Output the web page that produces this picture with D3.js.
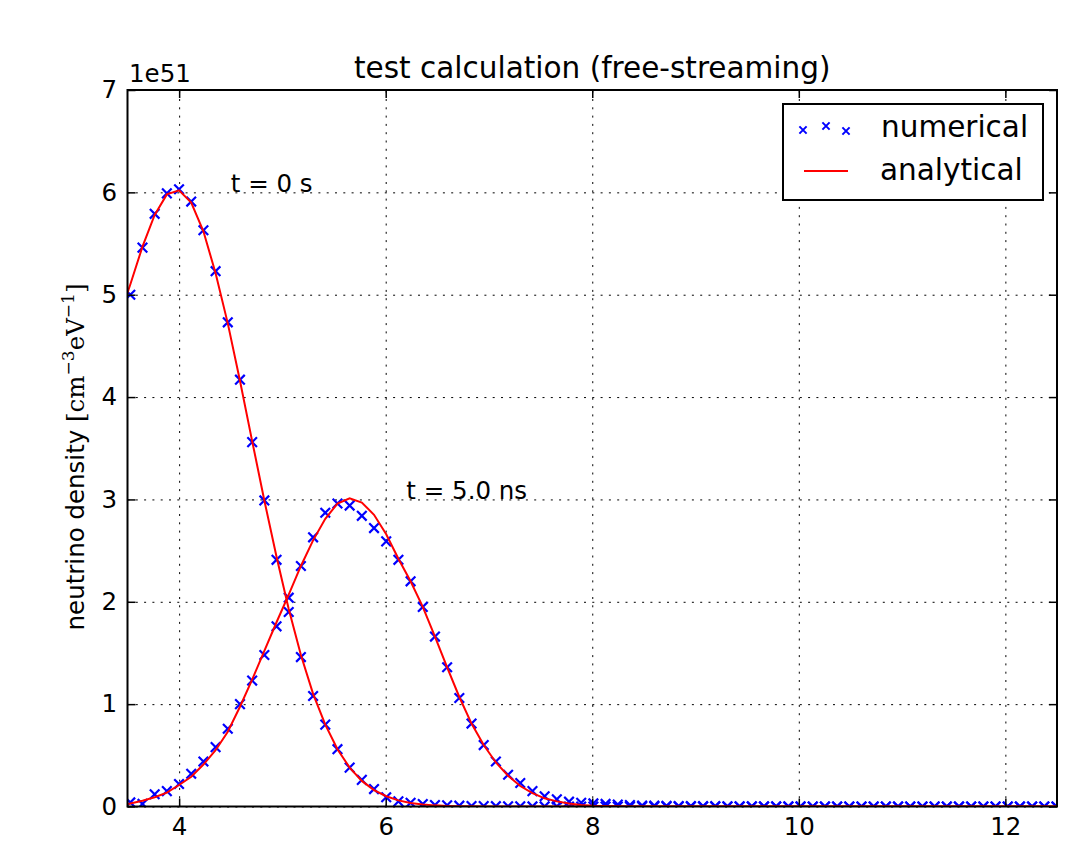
<!DOCTYPE html>
<html>
<head>
<meta charset="utf-8">
<script src="https://cdn.jsdelivr.net/npm/d3@7"></script>
<style>
  body { margin: 0; background: #fff; }
  svg text { font-family: "DejaVu Sans", sans-serif; fill: #000; }
  .grid line { stroke: #000; stroke-width: 1; stroke-dasharray: 2,6.3; }
  .grid .domain { display: none; }
  .axis .domain { display: none; }
  .axis line { stroke: #000; stroke-width: 1.5; }
</style>
</head>
<body>
<div id="chart-area"></div>
<script>
// energy grid of the numerical solution
var energyGrid = [
  3.527, 3.645, 3.763, 3.881, 3.999, 4.117, 4.235, 4.353, 4.471, 4.589,
  4.707, 4.825, 4.943, 5.061, 5.179, 5.297, 5.415, 5.533, 5.651, 5.769,
  5.887, 6.005, 6.123, 6.241, 6.359, 6.477, 6.595, 6.713, 6.831, 6.949,
  7.067, 7.185, 7.303, 7.421, 7.539, 7.657, 7.775, 7.893, 8.011, 8.129,
  8.247, 8.365, 8.483, 8.601, 8.719, 8.837, 8.955, 9.073, 9.191, 9.309,
  9.427, 9.545, 9.663, 9.781, 9.899, 10.017, 10.135, 10.253, 10.371, 10.489,
  10.607, 10.725, 10.843, 10.961, 11.079, 11.197, 11.315, 11.433, 11.551, 11.669,
  11.787, 11.905, 12.023, 12.141, 12.259, 12.377, 12.495
];

// numerical density (units of 1e51), t = 0 s
var numericalT0 = [
  5.00, 5.46, 5.79, 5.99, 6.03, 5.91, 5.63, 5.23, 4.73, 4.17,
  3.56, 2.99, 2.41, 1.90, 1.46, 1.08, 0.80, 0.56, 0.38, 0.26,
  0.17, 0.09, 0.05, 0.037, 0.024, 0.015, 0.012, 0.008, 0.005, 0.004,
  0.003, 0.002, 0.002, 0.001, 0.001, 0.001, 0, 0, 0, 0,
  0, 0, 0, 0, 0, 0, 0, 0, 0, 0,
  0, 0, 0, 0, 0, 0, 0, 0, 0, 0,
  0, 0, 0, 0, 0, 0, 0, 0, 0, 0,
  0, 0, 0, 0, 0, 0, 0
];

// numerical density, t = 5.0 ns
var numericalT5 = [
  0.04, 0.025, 0.12, 0.15, 0.22, 0.32, 0.44, 0.58, 0.76, 1.00,
  1.23, 1.48, 1.76, 2.04, 2.35, 2.63, 2.87, 2.96, 2.94, 2.84,
  2.72, 2.59, 2.41, 2.20, 1.95, 1.66, 1.36, 1.06, 0.81, 0.60,
  0.44, 0.31, 0.23, 0.15, 0.10, 0.07, 0.047, 0.037, 0.03, 0.025,
  0.02, 0.015, 0.01, 0.008, 0.006, 0.005, 0.004, 0.003, 0.003, 0.002,
  0.002, 0.002, 0.001, 0.001, 0.001, 0.001, 0, 0, 0, 0,
  0, 0, 0, 0, 0, 0, 0, 0, 0, 0,
  0, 0, 0, 0, 0, 0, 0
];

// analytical curves start at the left edge of the axes
var analyticalGrid = [3.5].concat(energyGrid);

var analyticalT0 = [
  5.02,
  5.10, 5.47, 5.78, 5.98, 6.02, 5.90, 5.62, 5.21, 4.72, 4.16,
  3.57, 2.99, 2.44, 1.93, 1.48, 1.10, 0.80, 0.56, 0.38, 0.25,
  0.16, 0.10, 0.06, 0.035, 0.02, 0.011, 0.006, 0.003, 0.002, 0.001,
  0, 0, 0, 0, 0, 0, 0, 0, 0, 0,
  0, 0, 0, 0, 0, 0, 0, 0, 0, 0,
  0, 0, 0, 0, 0, 0, 0, 0, 0, 0,
  0, 0, 0, 0, 0, 0, 0, 0, 0, 0,
  0, 0, 0, 0, 0, 0, 0
];

var analyticalT5 = [
  0.025,
  0.03, 0.057, 0.09, 0.135, 0.21, 0.29, 0.41, 0.55, 0.73, 0.975,
  1.24, 1.52, 1.80, 2.07, 2.35, 2.60, 2.81, 2.96, 3.01, 2.97,
  2.85, 2.66, 2.42, 2.20, 1.95, 1.66, 1.36, 1.07, 0.81, 0.60,
  0.43, 0.30, 0.20, 0.13, 0.08, 0.05, 0.03, 0.015, 0.008, 0.004,
  0.002, 0, 0, 0, 0, 0, 0, 0, 0, 0,
  0, 0, 0, 0, 0, 0, 0, 0, 0, 0,
  0, 0, 0, 0, 0, 0, 0, 0, 0, 0,
  0, 0, 0, 0, 0, 0, 0
];

var xTicks = [4, 6, 8, 10, 12];
var yTicks = [0, 1, 2, 3, 4, 5, 6, 7];

var margin = { top: 90, right: 31, bottom: 39.5, left: 127.5 };
var width = 1088 - margin.left - margin.right;
var height = 846 - margin.top - margin.bottom;

var svg = d3.select("#chart-area").append("svg")
  .attr("width", 1088)
  .attr("height", 846);

var g = svg.append("g")
  .attr("transform", "translate(" + margin.left + "," + margin.top + ")");

// scales
var x = d3.scaleLinear().domain([3.5, 12.5]).range([0, width]);
var y = d3.scaleLinear().domain([0, 7]).range([height, 0]);

// clip for the data
g.append("clipPath").attr("id", "plot-clip")
  .append("rect")
  .attr("width", width)
  .attr("height", height);

// dotted grid
g.append("g")
  .attr("class", "grid")
  .attr("transform", "translate(0," + height + ")")
  .call(d3.axisBottom(x).tickValues(xTicks).tickSize(-height).tickFormat(""));

g.append("g")
  .attr("class", "grid")
  .call(d3.axisLeft(y).tickValues(yTicks).tickSize(-width).tickFormat(""));

// data
var plot = g.append("g").attr("clip-path", "url(#plot-clip)");

var line = d3.line()
  .x(function(d) { return x(d[0]); })
  .y(function(d) { return y(d[1]); });

var crossPath = function(cx, cy, r) {
  return "M" + (cx - r) + "," + (cy - r) + "L" + (cx + r) + "," + (cy + r) +
    "M" + (cx - r) + "," + (cy + r) + "L" + (cx + r) + "," + (cy - r);
};

[numericalT0, numericalT5].forEach(function(series) {
  var pts = energyGrid.map(function(e, i) { return [e, series[i]]; });
  plot.append("g").selectAll("path")
    .data(pts)
    .enter()
    .append("path")
    .attr("d", function(d) { return crossPath(x(d[0]), y(d[1]), 4.8); })
    .attr("stroke", "#0000ff")
    .attr("stroke-width", 2.2)
    .attr("fill", "none");
});

[analyticalT0, analyticalT5].forEach(function(series) {
  var pts = analyticalGrid.map(function(e, i) { return [e, series[i]]; });
  plot.append("path")
    .datum(pts)
    .attr("d", line)
    .attr("fill", "none")
    .attr("stroke", "#ff0000")
    .attr("stroke-width", 2);
});

// axes, ticks pointing inward on all sides
var xAxis = d3.axisBottom(x).tickValues(xTicks).tickSizeInner(-8).tickSizeOuter(0)
  .tickPadding(11).tickFormat(d3.format("d"));
var yAxis = d3.axisLeft(y).tickValues(yTicks).tickSizeInner(-8).tickSizeOuter(0)
  .tickPadding(10.5).tickFormat(d3.format("d"));

g.append("g")
  .attr("class", "axis x-axis")
  .attr("transform", "translate(0," + height + ")")
  .call(xAxis);

g.append("g")
  .attr("class", "axis y-axis")
  .call(yAxis);

g.append("g")
  .attr("class", "axis")
  .call(d3.axisTop(x).tickValues(xTicks).tickSizeInner(-8).tickSizeOuter(0).tickFormat(""));

g.append("g")
  .attr("class", "axis")
  .attr("transform", "translate(" + width + ",0)")
  .call(d3.axisRight(y).tickValues(yTicks).tickSizeInner(-8).tickSizeOuter(0).tickFormat(""));

g.selectAll(".axis text")
  .attr("font-size", 24.5)
  .attr("font-family", "DejaVu Sans")
  .attr("fill", "#000");

// frame
g.append("rect")
  .attr("width", width)
  .attr("height", height)
  .attr("fill", "none")
  .attr("stroke", "#000")
  .attr("stroke-width", 2);

// title and offset text
svg.append("text")
  .attr("x", margin.left + width / 2)
  .attr("y", 78)
  .attr("text-anchor", "middle")
  .attr("font-size", 29.5)
  .text("test calculation (free-streaming)");

svg.append("text")
  .attr("x", 129)
  .attr("y", 82)
  .attr("font-size", 24.5)
  .text("1e51");

// annotations
g.append("text")
  .attr("x", x(4.5))
  .attr("y", y(6))
  .attr("font-size", 24.5)
  .text("t = 0 s");

g.append("text")
  .attr("x", x(6.2))
  .attr("y", y(3))
  .attr("font-size", 24.5)
  .text("t = 5.0 ns");

// y label
var yLabel = svg.append("text")
  .attr("transform", "translate(84,457) rotate(-90)")
  .attr("text-anchor", "middle")
  .attr("font-size", 24.5);

yLabel.append("tspan").text("neutrino density ");
yLabel.append("tspan").attr("font-family", "DejaVu Serif").text("[cm");
yLabel.append("tspan").attr("font-family", "DejaVu Serif").attr("font-size", 17).attr("dy", -10).text("\u22123");
yLabel.append("tspan").attr("font-family", "DejaVu Serif").attr("dy", 10).text("eV");
yLabel.append("tspan").attr("font-family", "DejaVu Serif").attr("font-size", 17).attr("dy", -10).text("\u22121");
yLabel.append("tspan").attr("font-family", "DejaVu Serif").attr("dy", 10).text("]");

// legend
var legend = svg.append("g").attr("transform", "translate(783,104)");

legend.append("rect")
  .attr("width", 260)
  .attr("height", 96)
  .attr("fill", "#fff")
  .attr("stroke", "#000")
  .attr("stroke-width", 2);

[[20, 26], [43, 22], [63, 27]].forEach(function(p) {
  legend.append("path")
    .attr("d", crossPath(p[0], p[1], 3.6))
    .attr("stroke", "#0000ff")
    .attr("stroke-width", 2)
    .attr("fill", "none");
});

legend.append("line")
  .attr("x1", 21).attr("x2", 65)
  .attr("y1", 67).attr("y2", 67)
  .attr("stroke", "#ff0000")
  .attr("stroke-width", 2);

legend.append("text")
  .attr("x", 98).attr("y", 33)
  .attr("font-size", 29.5)
  .text("numerical");

legend.append("text")
  .attr("x", 97).attr("y", 76)
  .attr("font-size", 29.5)
  .text("analytical");
</script>
</body>
</html>
